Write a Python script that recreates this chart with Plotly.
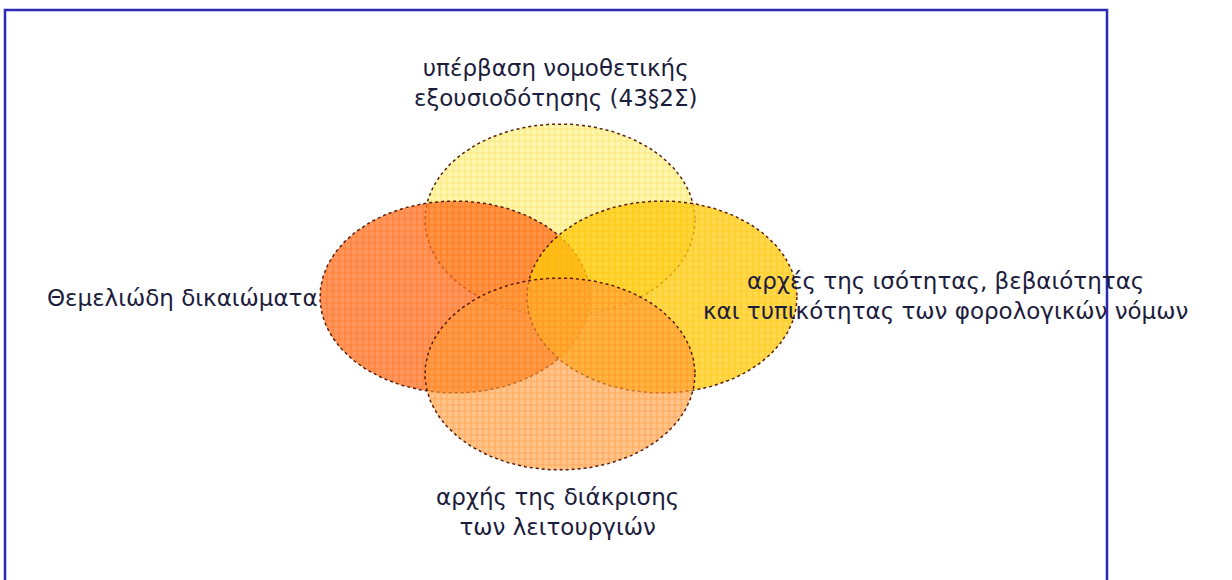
import numpy as np
import plotly.graph_objects as go

# Venn sets (centre x, centre y in pixel-like units, radii)
labels = [
    "υπέρβαση νομοθετικής<br>εξουσιοδότησης (43§2Σ)",
    "Θεμελιώδη δικαιώματα",
    "αρχές της ισότητας, βεβαιότητας<br>και τυπικότητας των φορολογικών νόμων",
    "αρχής της διάκρισης<br>των λειτουργιών",
]
centers_x = [560, 455, 662, 560]
centers_y = [220, 297, 297, 374]
radius_x = [135, 135, 135, 135]
radius_y = [96, 96, 96, 96]
bg_colors = ["rgba(255,240,120,0.6)", "rgba(255,110,30,0.72)",
             "rgba(255,203,14,0.75)", "rgba(255,157,60,0.6)"]
fg_colors = ["rgba(240,205,40,0.7)", "rgba(255,95,0,0.8)",
             "rgba(255,185,0,0.8)", "rgba(255,125,15,0.75)"]
label_x = [555, 320, 945, 557]
label_y = [83, 298, 296, 512]
label_anchor = ["center", "right", "center", "center"]

fig = go.Figure()
t = np.linspace(0, 2 * np.pi, 241)
for i in range(4):
    fig.add_trace(go.Scatter(
        x=centers_x[i] + radius_x[i] * np.cos(t),
        y=centers_y[i] + radius_y[i] * np.sin(t),
        mode="lines",
        fill="toself",
        fillcolor=bg_colors[i],
        fillpattern=dict(shape="+", bgcolor=bg_colors[i], fgcolor=fg_colors[i],
                         size=6, solidity=0.35),
        line=dict(color="rgba(80,20,0,0.95)", width=1.5, dash="dot"),
        hoverinfo="skip",
        showlegend=False,
    ))

for i in range(4):
    fig.add_annotation(
        x=label_x[i], y=label_y[i], text=labels[i], showarrow=False,
        xanchor=label_anchor[i], yanchor="middle", align="center",
        font=dict(family="DejaVu Sans", size=23, color="#1c1c3c"),
    )

fig.add_shape(type="rect", xref="x", yref="y", x0=5, y0=10, x1=1107, y1=620,
              line=dict(color="#2a2ab4", width=2.5), layer="above")

fig.update_layout(
    width=1232, height=580,
    margin=dict(l=0, r=0, t=0, b=0),
    paper_bgcolor="white", plot_bgcolor="white",
    xaxis=dict(range=[0, 1232], visible=False, fixedrange=True),
    yaxis=dict(range=[580, 0], visible=False, fixedrange=True),
)
fig.write_html("out.html",
               config={"displayModeBar": False},
               post_script="document.body.style.margin='0';document.body.style.overflow='hidden';")
